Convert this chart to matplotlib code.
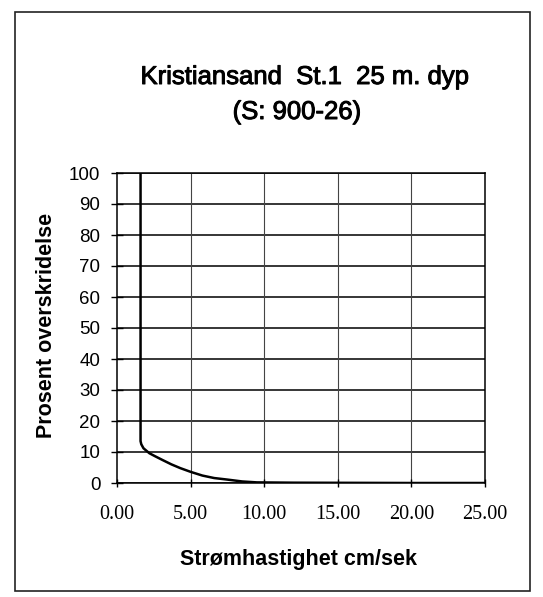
import matplotlib
matplotlib.use("Agg")
import matplotlib.pyplot as plt
from matplotlib.patches import Rectangle
import matplotlib.patheffects as pe

# Data (speed in cm/s vs percent exceedance)
speed = [1.6, 1.6, 1.65, 1.8, 2.2, 2.6, 3.1, 3.7, 4.3, 5.0, 5.8, 6.6, 7.5, 8.5, 9.5, 12.0, 16.0, 20.0, 25.0]
percent = [100, 13.5, 12.5, 11.2, 9.6, 8.6, 7.4, 6.0, 4.8, 3.6, 2.4, 1.6, 1.1, 0.5, 0.2, 0.1, 0.05, 0.0, 0.0]
x_ticks = [0, 5, 10, 15, 20, 25]
y_ticks = [0, 10, 20, 30, 40, 50, 60, 70, 80, 90, 100]
title_1 = "Kristiansand  St.1  25 m. dyp"
title_2 = "(S: 900-26)"
x_label = "Strømhastighet cm/sek"
y_label = "Prosent overskridelse"

W, H = 543, 597
fig = plt.figure(figsize=(W / 100, H / 100), dpi=100)
fig.patch.set_facecolor("white")

# outer frame
fig.patches.append(Rectangle((15 / W, 1 - 591 / H), (530 - 15) / W, (591 - 12) / H,
                             transform=fig.transFigure, fill=False,
                             edgecolor="#222222", linewidth=1.2))

ax = fig.add_axes([117 / W, 1 - 483 / H, (485 - 117) / W, (483 - 173) / H])
ax.plot(speed, percent, color="black", linewidth=1.8, solid_joinstyle="round", zorder=3)

ax.set_xlim(0, 25)
ax.set_ylim(0, 100)
ax.set_xticks(x_ticks)
ax.set_yticks(y_ticks)
ax.set_xticklabels([f"{v:.2f}" for v in x_ticks], family="Liberation Serif", fontsize=14.5)
ax.set_yticklabels([str(v) for v in y_ticks], family="Liberation Sans", fontsize=13.5)
ax.tick_params(axis="x", direction="inout", length=6, width=1, pad=13, colors="black")
ax.tick_params(axis="y", direction="inout", length=8, width=1, pad=8, colors="black")

for y in y_ticks:
    ax.axhline(y, color="black", linewidth=1.1, zorder=1)
for x in x_ticks[1:-1]:
    ax.axvline(x, color="#444444", linewidth=0.8, zorder=1)

for s in ax.spines.values():
    s.set_color("black")
    s.set_linewidth(1.1)

fig.text(298 / W, 1 - 559 / H, x_label, ha="center", va="center",
         family="Liberation Sans", fontsize=15.5, fontweight="bold")
fig.text(47 / W, 1 - 325 / H, y_label, ha="center", va="center", rotation=90,
         family="Liberation Sans", fontsize=15.5, fontweight="bold")

thick = [pe.withStroke(linewidth=0.7, foreground="black")]
fig.text(305 / W, 1 - 77 / H, title_1, ha="center", va="center",
         family="Liberation Sans", fontsize=18.5, path_effects=thick)
fig.text(297 / W, 1 - 112 / H, title_2, ha="center", va="center",
         family="Liberation Sans", fontsize=18.5, path_effects=thick)

fig.savefig("out.png", dpi=100, facecolor="white")
